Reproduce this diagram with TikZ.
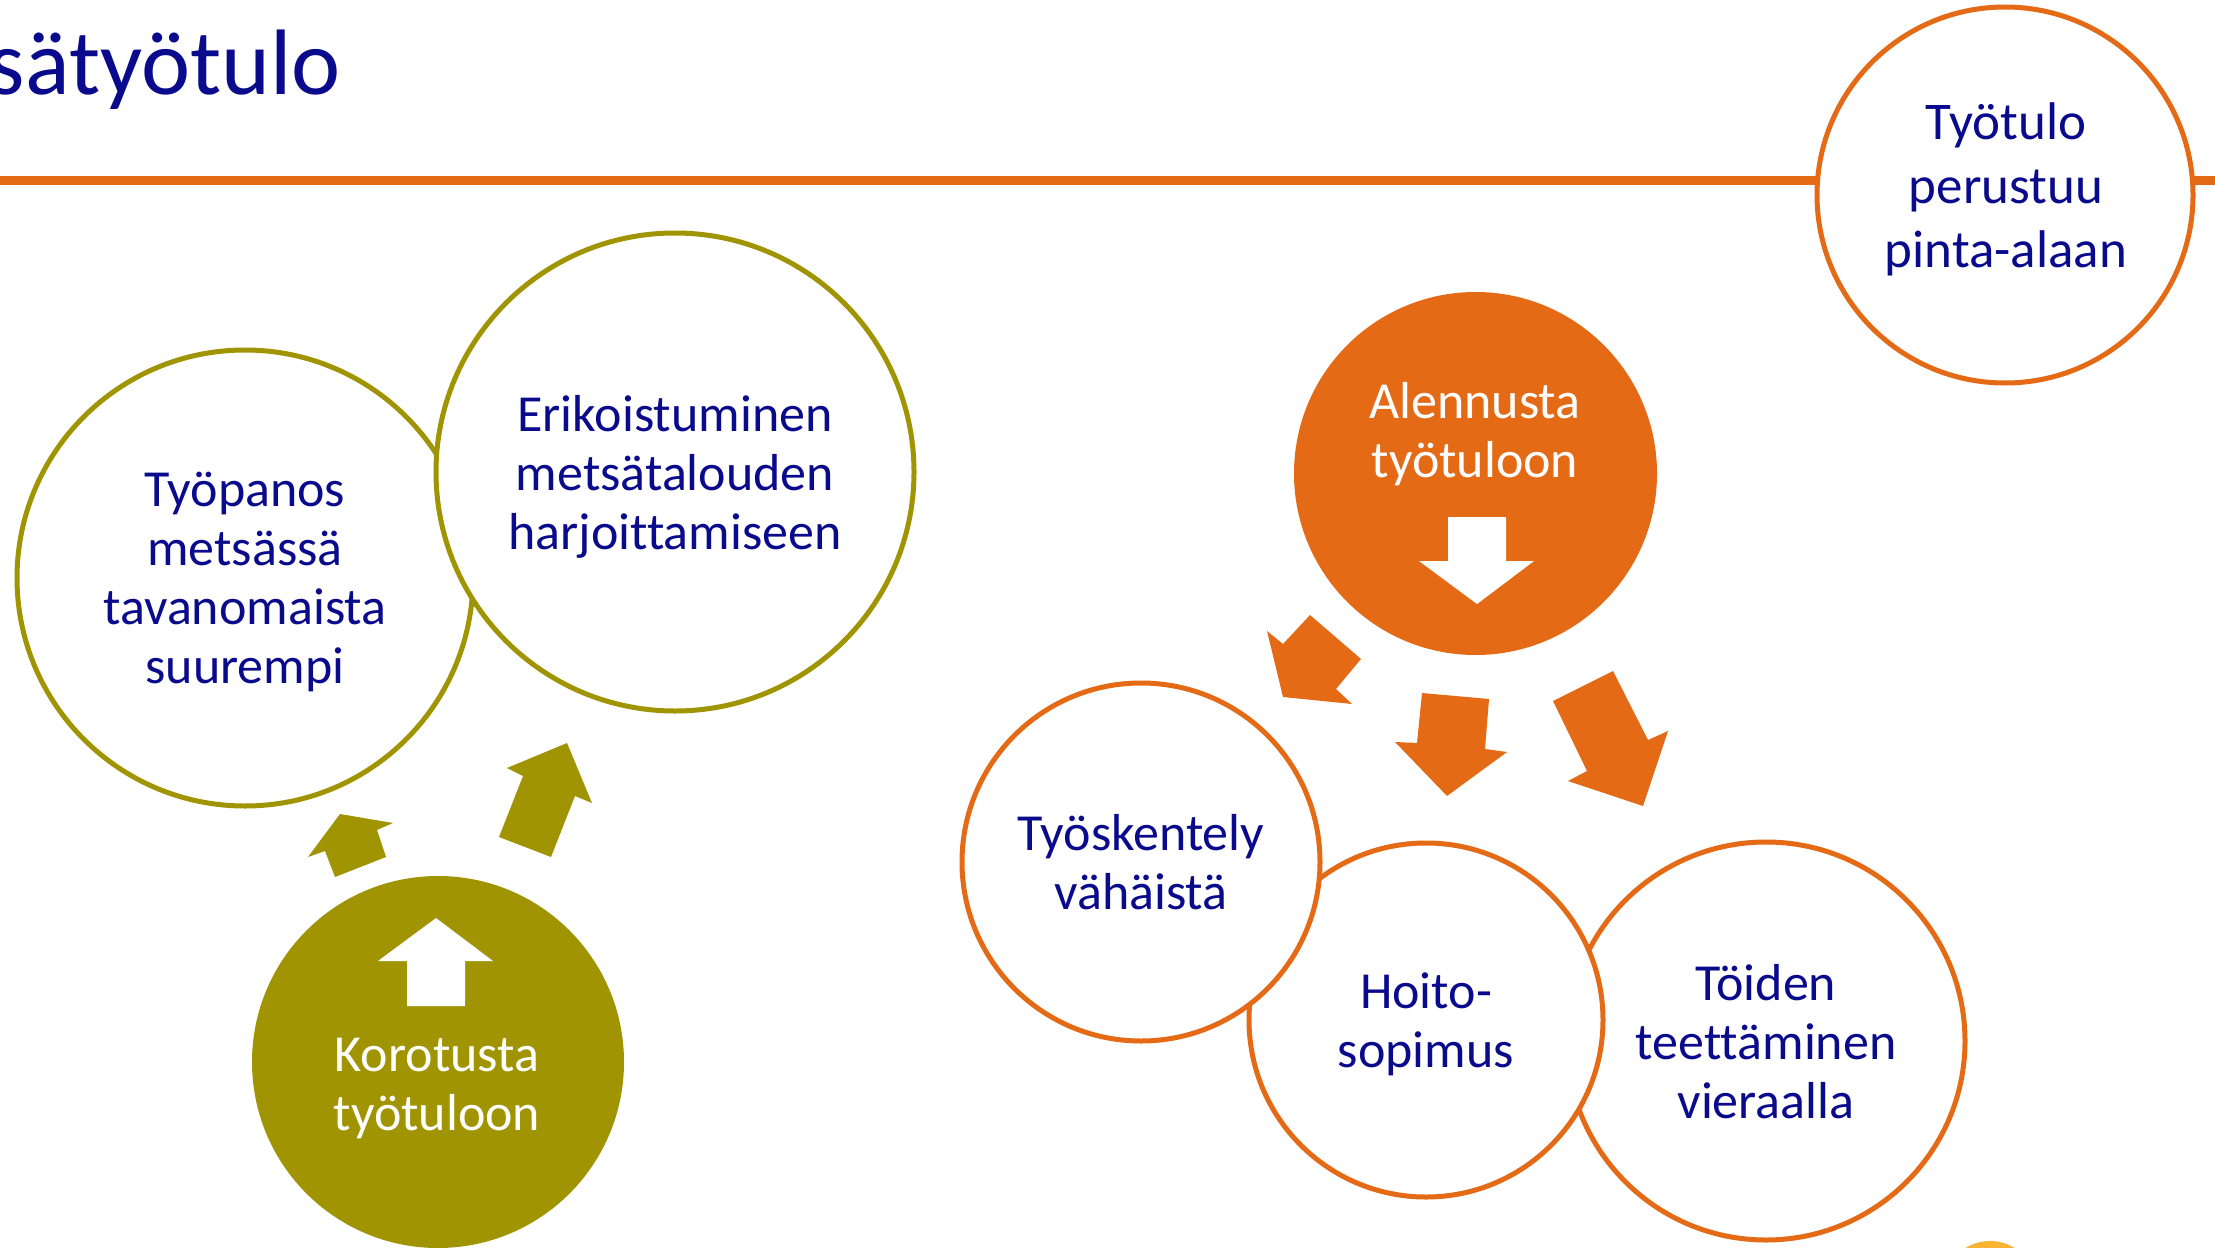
\documentclass[tikz,border=0pt]{standalone}
\usepackage{fontspec}
\setmainfont{Carlito}[Ligatures={NoCommon}]
\definecolor{navy}{RGB}{10,10,140}
\definecolor{olv}{RGB}{161,148,2}
\definecolor{org}{RGB}{228,106,22}
\definecolor{amber}{RGB}{250,180,52}
\tikzset{
  txt/.style={font=\fontsize{26}{29.5}\selectfont, text=navy, align=center, text depth=0pt},
  wtxt/.style={font=\fontsize{26}{29.5}\selectfont, text=white, align=center, text depth=0pt, inner sep=0pt},
  olvring/.style={circle, draw=olv, line width=2.5pt, fill=white, inner sep=0pt, txt},
  orgring/.style={circle, draw=org, line width=2.5pt, fill=white, inner sep=0pt, txt},
  olvdisc/.style={circle, fill=olv, inner sep=0pt},
  orgdisc/.style={circle, fill=org, inner sep=0pt},
  olvarrow/.style={fill=olv},
  orgarrow/.style={fill=org},
  wharrow/.style={fill=white},
}
\begin{document}
\begin{tikzpicture}[x=0.5pt,y=-0.5pt]
\useasboundingbox (0,0) rectangle (2215,1247);
\clip (0,0) rectangle (2215,1247);
\fill[white] (0,0) rectangle (2215,1247);

% title and header rule
\node[anchor=base east, inner sep=0pt, text=navy, font=\fontsize{46.5}{50}\selectfont] (title) at (341,95) {sätyötulo};
\draw[org, line width=4.5pt] (0,180) -- (2215,180);
\node[orgring, minimum size=188pt] (pinta) at (2005,195) {};
\node[txt, inner sep=0pt, font=\fontsize{26.5}{32}\selectfont] (pintaTxt) at (2006,185) {Työtulo\\perustuu\\pinta-alaan};

% left group
\node[olvring, minimum size=228pt] (tyopanos) at (245,578) {Työpanos\\metsässä\\tavanomaista\\suurempi};
\node[olvring, minimum size=239pt] (erik) at (675,472) {Erikoistuminen\\metsätalouden\\harjoittamiseen};
\node[olvdisc, minimum size=186pt] (korotus) at (438,1062) {};
\node[wtxt] (korotusTxt) at (437,1084) {Korotusta\\työtuloon};
\fill[wharrow] (436,918) -- (493,961) -- (465,961) -- (465,1006) -- (407,1006) -- (407,961) -- (378,961) -- cycle;
\fill[olvarrow] (340,814) -- (393,823) -- (377,830) -- (386,857) -- (335,877) -- (325,851) -- (308,857) -- cycle;
\fill[olvarrow] (567,743) -- (592,803) -- (575,796) -- (551,857) -- (499,837) -- (523,776) -- (507,768) -- cycle;

% right group
\node[orgdisc, minimum size=181.5pt] (alennus) at (1475.5,473.5) {};
\node[wtxt] (alennusTxt) at (1475,430) {Alennusta\\työtuloon};
\fill[wharrow] (1448,517) -- (1506,517) -- (1506,561) -- (1534,561) -- (1477,604) -- (1419,561) -- (1448,561) -- cycle;
\fill[orgarrow] (1283,697) -- (1267,631) -- (1283,644) -- (1310,615) -- (1361,659) -- (1336,689) -- (1352,704) -- cycle;
\fill[orgarrow] (1422,693) -- (1489,699) -- (1485,749) -- (1507,752) -- (1447,796) -- (1395,742) -- (1417,743) -- cycle;
\fill[orgarrow] (1553,701) -- (1613,671) -- (1648,740) -- (1668,731) -- (1643,806) -- (1568,781) -- (1587,771) -- cycle;

\node[orgring, minimum size=199pt] (toiden) at (1766,1041) {Töiden\\teettäminen\\vieraalla};
\node[orgring, minimum size=177pt] (hoito) at (1426,1020) {Hoito-\\sopimus};
\node[orgring, minimum size=179pt] (tyosk) at (1141,862) {Työskentely\\vähäistä};

% partial decoration at lower right
\fill[amber] (1990,1288) circle[radius=47];
\end{tikzpicture}
\end{document}
